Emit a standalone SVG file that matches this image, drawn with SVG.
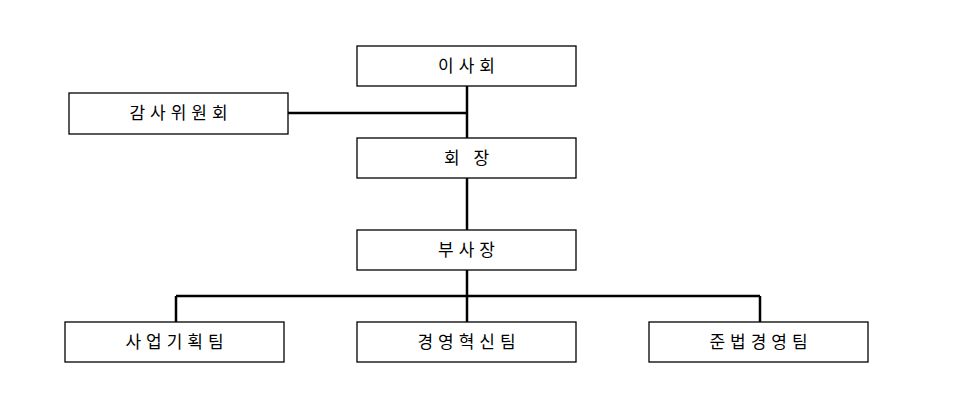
<svg xmlns="http://www.w3.org/2000/svg" width="962" height="411" viewBox="0 0 962 411">
<style>
.b{fill:#fff;stroke:#000;stroke-width:1.3}
.t{font-family:"Noto Sans CJK KR",sans-serif;font-size:17px;text-anchor:middle;letter-spacing:5px;fill:#000}
.c{stroke:#000;stroke-width:2.5;fill:none}
</style>
<rect width="962" height="411" fill="#fff"/>
<g id="connectors">
<path class="c" d="M467 86V138M288 113H467M467 178V230M467 270V322M176 296H760M176 296V322M760 296V322"/>
</g>
<g id="n1"><rect class="b" x="357" y="46" width="219" height="40"/><text class="t" x="469" y="72">이사회</text></g>
<g id="n2"><rect class="b" x="69" y="93" width="219" height="41"/><text class="t" x="181" y="119">감사위원회</text></g>
<g id="n3"><rect class="b" x="357" y="138" width="219" height="40"/><text class="t" x="469" y="164">회 장</text></g>
<g id="n4"><rect class="b" x="357" y="230" width="219" height="40"/><text class="t" x="469" y="256">부사장</text></g>
<g id="n5"><rect class="b" x="65" y="322" width="219" height="40"/><text class="t" x="177" y="348">사업기획팀</text></g>
<g id="n6"><rect class="b" x="357" y="322" width="219" height="40"/><text class="t" x="469" y="348">경영혁신팀</text></g>
<g id="n7"><rect class="b" x="649" y="322" width="219" height="40"/><text class="t" x="761" y="348">준법경영팀</text></g>
</svg>
